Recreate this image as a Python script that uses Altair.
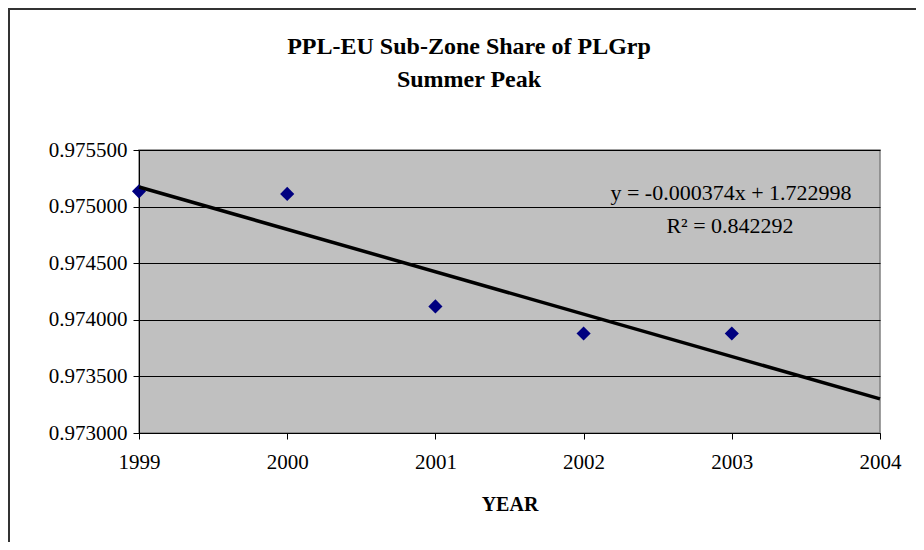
import altair as alt
import pandas as pd

years = [1999, 2000, 2001, 2002, 2003]
share = [0.975135, 0.975112, 0.974118, 0.973879, 0.973879]
x_ticks = [1999, 2000, 2001, 2002, 2003, 2004]
y_ticks = [0.973, 0.9735, 0.974, 0.9745, 0.975, 0.9755]
title_lines = ["PPL-EU Sub-Zone Share of PLGrp", "Summer Peak"]
eq_lines = ["y = -0.000374x + 1.722998", "R\u00b2 = 0.842292"]

df = pd.DataFrame({"year": years, "share": share})
FONT = "'Times New Roman', 'Liberation Serif', serif"
W, H = 741, 283

xenc = alt.X("year:Q",
             scale=alt.Scale(domain=[1999, 2004], nice=False, zero=False),
             axis=alt.Axis(values=x_ticks, format="d", title="YEAR", grid=False,
                           domainColor="black", tickColor="black", tickSize=6,
                           labelFont=FONT, labelFontSize=21, labelColor="black",
                           labelPadding=12, labelFlush=False,
                           titleFont=FONT, titleFontSize=20, titleFontWeight="bold",
                           titleColor="black", titlePadding=22))
yenc = alt.Y("share:Q",
             scale=alt.Scale(domain=[0.973, 0.9755], nice=False, zero=False),
             axis=alt.Axis(values=y_ticks, format=".6f", title=None,
                           grid=True, gridColor="black", gridWidth=1,
                           domainColor="black", tickColor="black", tickSize=6,
                           labelFont=FONT, labelFontSize=21, labelColor="black",
                           labelPadding=6))

base = alt.Chart(df)

points = base.mark_point(shape="diamond", filled=True, color="#000080",
                         size=200, opacity=1).encode(x=xenc, y=yenc)

trend = base.transform_regression("year", "share", extent=[1999, 2004]).mark_line(
    color="black", strokeWidth=3.5).encode(x=xenc, y=yenc)

def label(text, x, y, size, weight="normal"):
    return alt.Chart(pd.DataFrame({"t": [text]})).mark_text(
        font=FONT, fontSize=size, fontWeight=weight, color="black",
        align="center", baseline="middle", clip=False
    ).encode(text="t:N", x=alt.value(x), y=alt.value(y))

eq1 = label(eq_lines[0], 592, 43, 22)
eq2 = label(eq_lines[1], 591, 76, 22)
t1 = label(title_lines[0], 330, -103, 24, "bold")
t2 = label(title_lines[1], 330, -70, 24, "bold")

frame_left = alt.Chart(pd.DataFrame({"a": [0]})).mark_rule(
    color="#333333", strokeWidth=2, clip=False
).encode(x=alt.value(-130), y=alt.value(-142), y2=alt.value(H + 109))
frame_top = alt.Chart(pd.DataFrame({"a": [0]})).mark_rule(
    color="#333333", strokeWidth=2, clip=False
).encode(x=alt.value(-131), x2=alt.value(W + 36), y=alt.value(-141))

chart = alt.layer(frame_left, frame_top, points, trend, eq1, eq2, t1, t2).properties(
    width=W, height=H,
    padding={"left": 131, "top": 142, "right": 36, "bottom": 109},
    autosize=alt.AutoSizeParams(type="none"),
    background="white",
).configure_view(fill="#C0C0C0", stroke="#808080", strokeWidth=1.5)

chart.save("out.html", embed_options={"renderer": "svg", "actions": False})
